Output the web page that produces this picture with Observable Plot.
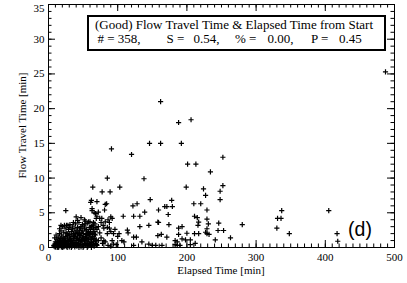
<!DOCTYPE html>
<html><head><meta charset="utf-8">
<script src="https://cdn.jsdelivr.net/npm/d3@7"></script>
<script src="https://cdn.jsdelivr.net/npm/@observablehq/plot@0.6"></script>
<style>
body{margin:0;background:#fff;}
#chart{position:relative;width:407px;height:283px;}
#chart svg, #chart svg text{font-family:"Liberation Serif","Times New Roman","DejaVu Serif",serif;}
#chart svg text.panel{font-family:"Liberation Sans",Arial,sans-serif;}
</style></head><body><div id="chart"></div>
<script>
// [elapsed time (min), flow travel time (min)]
const denseCluster = [
[8,0.2],[9,0.5],[10,0.1],[10,0.8],[11,0.3],[12,0.6],[12,1.2],[13,0.2],[13,0.9],[14,0.4],[14,1.5],[15,0.1],[15,0.7],[16,1.0],[16,2.0],[17,0.3],[17,1.3],[18,0.6],[18,2.4],[19,0.2],[19,1.8],[20,0.9],[20,3.0],[21,0.4],[21,1.5],[22,0.1],[22,2.2],[23,0.7],[23,1.1],[24,0.3],[24,2.8],[25,1.6],[25,0.5],[26,0.2],[26,3.2],[27,1.0],[27,2.0],[28,0.4],[28,1.4],[29,0.8],[29,2.6],[30,0.1],[30,1.9],[31,0.6],[31,3.3],[32,1.2],[32,0.3],[33,2.3],[33,0.9],[34,1.6],[34,0.2],[35,3.1],[35,0.7],[36,1.3],[36,2.0],[37,0.4],[37,2.7],[38,1.0],[38,0.1],[39,1.8],[39,3.4],[40,0.5],[40,2.4],[41,1.1],[41,0.2],[42,2.9],[42,1.5],[43,0.6],[43,2.1],[44,0.3],[44,3.6],[45,1.2],[45,2.5],[46,0.8],[46,1.7],[47,0.1],[47,3.0],[48,2.2],[48,0.9],[49,1.4],[49,3.3],[50,0.4],[50,2.0],[51,1.6],[51,0.2],[52,2.8],[52,1.0],[53,0.6],[53,3.8],[54,1.9],[54,0.3],[55,2.4],[55,1.3],[56,0.8],[56,3.5],[57,1.7],[57,0.2],[58,2.2],[58,1.1],[59,0.5],[59,2.9],[60,3.7],[60,1.5],[61,0.3],[61,2.6],[62,1.2],[62,0.7],[63,3.2],[63,2.0],[64,0.4],[64,1.6],[65,2.8],[65,0.9],[66,1.3],[66,0.2],[67,2.3],[67,3.4],[68,0.6],[68,1.8],[69,1.1],[69,4.2],[70,0.3],[70,2.6],
[14,0.0],[20,0.0],[27,0.0],[33,0.0],[38,0.5],[44,0.0],[50,0.0],[56,0.0],[62,0.0],
[18,3.2],[23,3.2],[28,3.2],[16,2.7],[11,1.8],[9,1.4],[30,2.9],[36,3.6],[42,3.9],[52,4.0],[58,3.7],[47,4.3],[65,3.6],[40,4.4],[25,5.3],
[7.7,0.3],[9.5,0.1],[11.5,0.4],[12.5,0.0],[13.5,0.6],[15.5,0.3],[16.5,0.5],[17.5,0.9],[18.5,0.1],[19.5,1.1],[20.5,0.4],[21.5,0.7],[22.5,1.3],[23.5,0.2],[24.5,0.9],[25.5,2.1],[26.5,0.6],[27.5,1.7],[28.5,0.9],[29.5,0.3],[30.5,1.2],[31.5,0.9],[32.5,1.8],[33.5,0.5],[34.5,2.7],[35.5,1.0],[36.5,0.3],[37.5,1.6],[38.5,2.2],[39.5,0.7],[40.5,1.3],[41.5,2.0],[42.5,0.3],[43.5,1.0],[44.5,1.9],[45.5,0.4],[46.5,2.8],[47.5,1.1],[48.5,0.5],[49.5,2.4],[50.5,1.2],[51.5,3.1],[52.5,0.5],[53.5,1.4],[54.5,2.6],[55.5,0.6],[56.5,2.0],[57.5,1.2],[58.5,0.4],[59.5,1.9],[60.5,2.3],[61.5,0.9],[62.5,3.0],[63.5,1.4],[64.5,2.2],[65.5,0.5],[66.5,1.9],[67.5,0.9],[68.5,2.9],[69.5,0.4]
];
const midSpread = [
[62,6.8],[70,6.6],[61,6.5],[63,5.6],[63,5.3],[66,5.0],[68,4.9],[72,5.1],[70,4.5],[74,4.2],[77,4.2],[82,6.2],[81,5.4],[82,3.7],[79,3.2],[85,2.9],[84,6.3],[86,4.0],[88,3.6],[90,4.4],[92,4.2],[53,3.4],[85,2.0],[94,2.0],[102,2.0],[80,1.0],[82,0.8],[94,0.5],[76,1.4],[78,0.6],[86,0.3],[90,0.2],[72,3.0],[76,3.6],[80,2.8],[74,2.1],[72,1.0],[88,2.8],[96,2.6],[98,0.4],[100,1.6],[106,1.0],[109,0.8],[108,4.5],[114,2.5],[115,2.1],[123,4.5],[122,6.0],[128,6.3],[132,4.5],[132,3.0],[123,1.5],[127,1.5],[135,0.8],[123,0.3],[139,5.1],[145,3.2],[147,6.9],[145,0.5],[150,0.3],[155,0.3],[159,5.4],[159,3.6],[90,2.3],[92,1.0]
];
const lateSpread = [
[178,6.8],[168,5.9],[171,5.9],[179,5.9],[173,4.75],[210,6.3],[220,6.3],[229,5.4],[227,7.5],[158,3.65],[174,3.3],[193,3.0],[188,2.8],[211,4.5],[215,4.3],[217,3.65],[216,3.2],[231,3.4],[200,2.05],[211,2.0],[217,2.0],[229,2.0],[158,1.7],[163,1.9],[171,1.5],[188,1.9],[193,1.25],[198,1.1],[205,1.1],[183,1.0],[186,0.8],[212,0.6],[164,0.3],[183,0.4],[186,0.3],[190,0.3],[205,0.4],[227,2.2],[248,6.9],[246,3.5],[245,2.45],[253,2.45],[280,3.3],[241,1.1],[263,1.4],[229,4.1],[229,2.7],[232,1.9]
];
const upperPoints = [
[77.5,8.0],[89,8.0],[64,8.7],[103,8.7],[85,10.0],[138,9.9],[91,14.2],[120,13.4],[146,15.0],[162,15.0],[192,15.0],[162,21.0],[188,18.0],[206,18.4],[201,12.0],[213,12.0],[234,10.9],[252,13.0],[199,8.7],[252,8.9],[224,8.45],[248,8.1]
];
const farPoints = [
[330,2.8],[331,4.2],[336,4.2],[337,5.3],[348,2.0],[405,5.3],[417,2.0],[418,0.9],[487,25.3]
];

const xMajor = [0,100,200,300,400,500];
const yMajor = [0,5,10,15,20,25,30,35];
const xMinor = d3.range(0,501,10);
const yMinor = d3.range(0,36,1);

const titleText = "(Good) Flow Travel Time & Elapsed Time from Start";
const statParts = ["# = 358,","S =","0.54,","% =","0.00,","P =","0.45"];
const xLabel = "Elapsed Time [min]";
const yLabel = "Flow Travel Time [min]";
const panelLabel = "(d)";

const W=407,H=283,mL=48,mR=13,mT=4,mB=36;
const pw=W-mL-mR, ph=H-mT-mB;
const majorLen=7, minorLen=3.5;

const points=[...denseCluster,...midSpread,...lateSpread,...upperPoints,...farPoints].map(([x,y])=>({elapsed:x,travel:y}));
const topTick = yMajor[yMajor.length-1];

const plot = Plot.plot({
  width:W,height:H,marginLeft:mL,marginRight:mR,marginTop:mT,marginBottom:mB,
  style:{fontSize:"11px",background:"#fff",color:"#000"},
  x:{domain:[0,500]},
  y:{domain:[0,35]},
  marks:[
    Plot.dot(points,{x:"elapsed",y:"travel",symbol:"plus",r:1.8,stroke:"#000",strokeWidth:1.2}),
    Plot.tickX(xMajor,{insetTop:ph-majorLen,stroke:"#000"}),
    Plot.tickX(xMajor,{insetBottom:ph-majorLen,stroke:"#000"}),
    Plot.tickX(xMinor,{insetTop:ph-minorLen,stroke:"#000"}),
    Plot.tickX(xMinor,{insetBottom:ph-minorLen,stroke:"#000"}),
    Plot.tickY(yMajor,{insetRight:pw-majorLen,stroke:"#000"}),
    Plot.tickY(yMajor,{insetLeft:pw-majorLen,stroke:"#000"}),
    Plot.tickY(yMinor,{insetRight:pw-minorLen,stroke:"#000"}),
    Plot.tickY(yMinor,{insetLeft:pw-minorLen,stroke:"#000"}),
    Plot.frame({stroke:"#000"}),
    Plot.axisX({ticks:xMajor,tickSize:0,tickPadding:6,label:null,tickFormat:d=>String(d)}),
    Plot.axisY({ticks:yMajor.filter(d=>d!==topTick),tickSize:0,tickPadding:4,label:null,tickFormat:d=>String(d)}),
    Plot.text([topTick],{x:()=>0,y:d=>d,text:d=>String(d),textAnchor:"end",dx:-4,dy:4,fontSize:11})
  ]
});
document.getElementById("chart").appendChild(plot);

const svg=d3.select(plot);
svg.append("text").attr("transform","translate(25.5,125.5) rotate(-90)").attr("text-anchor","middle")
  .attr("font-size",11).attr("fill","#000").text(yLabel);
svg.append("text").attr("x",(mL+W-mR)/2).attr("y",274).attr("text-anchor","middle")
  .attr("font-size",11).attr("fill","#000").text(xLabel);
svg.append("rect").attr("x",88).attr("y",16).attr("width",297).attr("height",34)
  .attr("fill","#fff").attr("stroke","#000").attr("stroke-width",2);
svg.append("text").attr("x",234).attr("y",28.8).attr("text-anchor","middle")
  .attr("font-size",13).attr("fill","#000").text(titleText);
// lay out the statistics line with even gaps between its pieces, spanning the reference's extent
const statStart=119, statEnd=373;
const nodes=statParts.map(s=>svg.append("text").attr("y",43.4)
  .attr("font-size",13).attr("fill","#000").text(s));
const widths=nodes.map(n=>n.node().getComputedTextLength());
const gap=(statEnd-statStart-d3.sum(widths))/(statParts.length-1);
let cx=statStart;
nodes.forEach((n,i)=>{n.attr("x",cx); cx+=widths[i]+gap;});
svg.append("text").attr("class","panel").attr("x",360).attr("y",236)
  .attr("font-size",19.5).attr("fill","#000").text(panelLabel);
</script></body></html>
